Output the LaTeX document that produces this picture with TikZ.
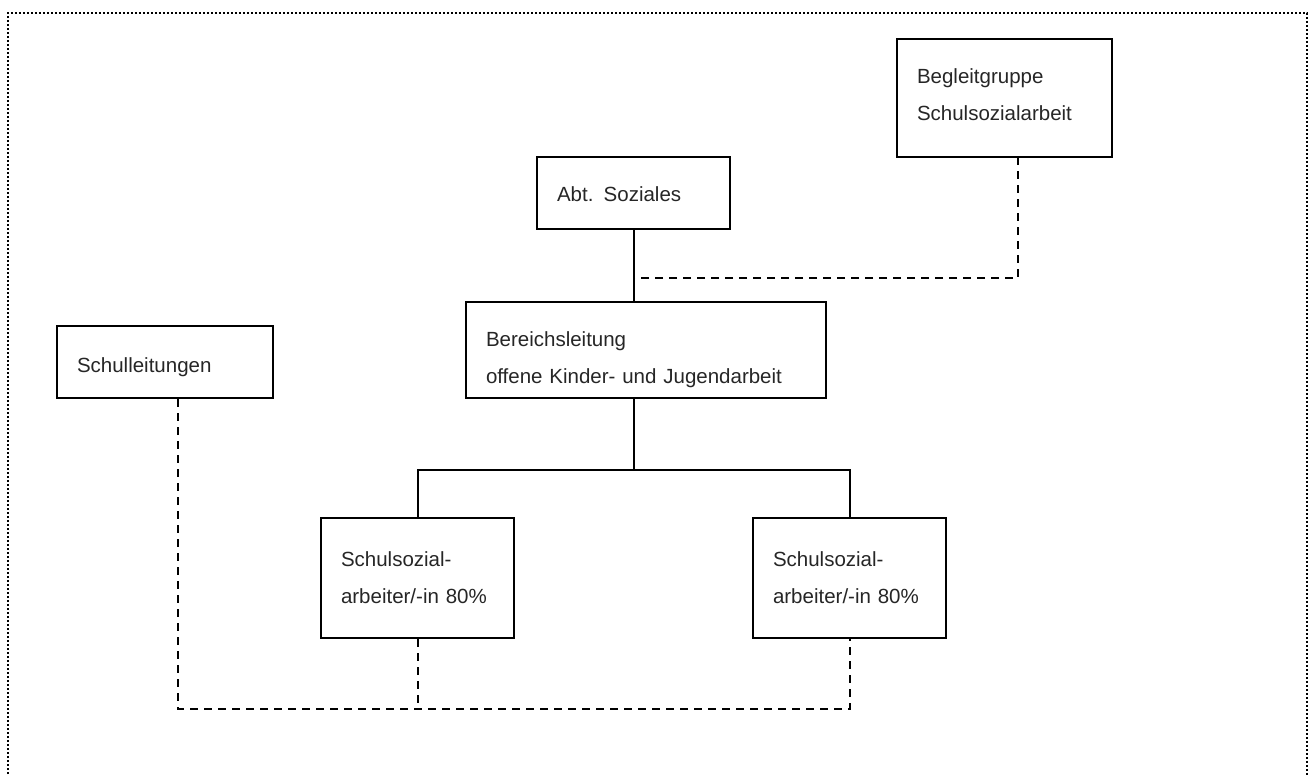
\documentclass[tikz,border=0pt]{standalone}
\usepackage{fontspec}
\setmainfont{Liberation Sans}
\begin{document}
\begin{tikzpicture}[x=1pt,y=-1pt,
  box/.style={draw, line width=2pt, inner xsep=20pt, inner ysep=0pt, align=left,
    font=\fontsize{20.5}{37}\selectfont, text=black!85},
  conn/.style={line width=2pt},
  dconn/.style={line width=2pt, dash pattern=on 8pt off 6pt},
  frame/.style={line width=1.8pt, dash pattern=on 1.8pt off 2.2pt}]
\useasboundingbox (0,0) rectangle (1315,776);
\draw[frame] (8,790) -- (8,13) -- (1307,13) -- (1307,790);
\node[box, minimum width=216pt, minimum height=72pt, text width=176pt] (sl) at (165,362) {\rule{0pt}{25pt}Schulleitungen};
\node[box, minimum width=193pt, minimum height=72pt, text width=153pt] (abt) at (633.5,193) {\rule{0pt}{17pt}Abt. Soziales};
\node[box, minimum width=215pt, minimum height=118pt, text width=175pt] (bg) at (1004.5,98) {Begleitgruppe\\Schulsozialarbeit\rule[-7pt]{0pt}{7pt}};
\node[box, minimum width=360pt, minimum height=96pt, text width=320pt] (bl) at (646,350) {\rule{0pt}{35pt}Bereichsleitung\\offene Kinder- und Jugendarbeit};
\node[box, minimum width=193pt, minimum height=120pt, text width=153pt] (s1) at (417.5,578) {Schulsozial-\\arbeiter/-in 80\%};
\node[box, minimum width=193pt, minimum height=120pt, text width=153pt] (s2) at (849.5,578) {Schulsozial-\\arbeiter/-in 80\%};
\coordinate (jn) at (634,278);
\coordinate (bgd) at (1018,157);
\coordinate (fork) at (634,470);
\coordinate (base) at (178,709);
\draw[conn] (abt.south) -- (abt.south |- bl.north);
\draw[dconn] (bgd) -- (bgd |- jn) -- (jn);
\draw[conn] (fork |- bl.south) -- (fork);
\draw[conn] (s1.north) -- (s1.north |- fork) -- (s2.north |- fork) -- (s2.north);
\draw[dconn] (base |- sl.south) -- (base) -- (s2.south |- base) -- (s2.south);
\draw[dconn] (s1.south) -- (s1.south |- base);
\end{tikzpicture}
\end{document}
